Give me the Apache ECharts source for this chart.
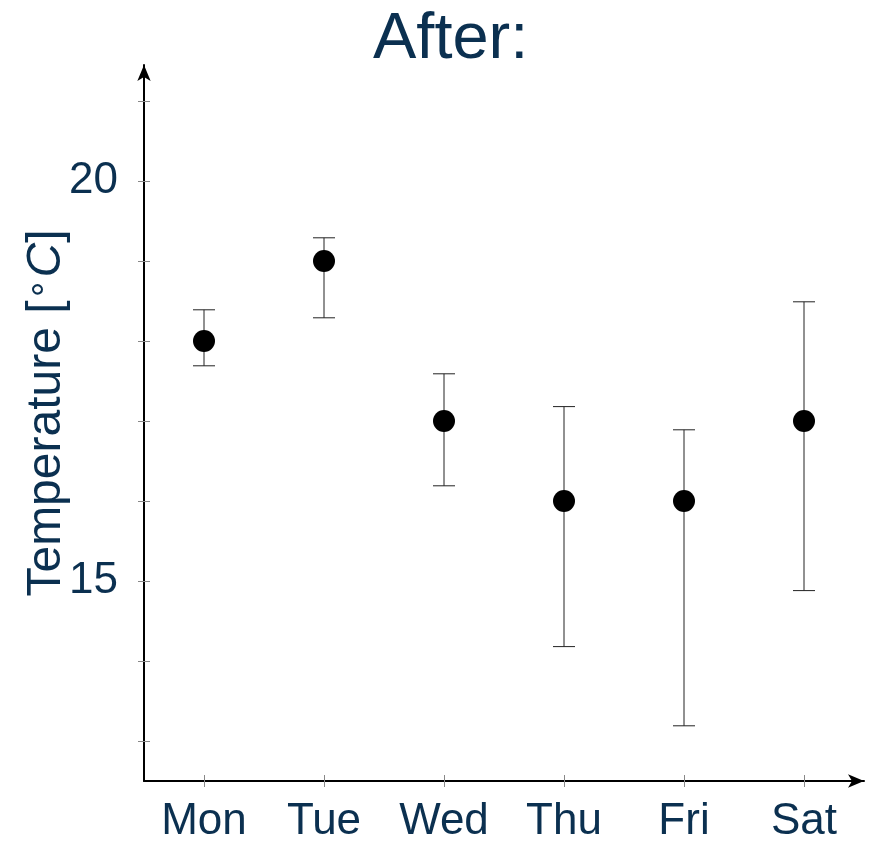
<!DOCTYPE html>
<html>
<head>
<meta charset="utf-8">
<script src="https://cdn.jsdelivr.net/npm/echarts@6/dist/echarts.min.js"></script>
<style>
  html, body { margin: 0; padding: 0; background: #fff; }
  #main { width: 869px; height: 844px; }
</style>
</head>
<body>
<div id="main"></div>
<script>
// data
const days = ['Mon', 'Tue', 'Wed', 'Thu', 'Fri', 'Sat']
const temps = [18, 19, 17, 16, 16, 17]
const upper = [18.39, 19.29, 17.59, 17.18, 16.89, 18.49]
const lower = [17.69, 18.29, 16.19, 14.18, 13.19, 14.88]
const yLabels = [15, 20]
const yTicks = [13, 14, 15, 16, 17, 18, 19, 20, 21]

const textColor = '#0b3050'
const font = "'Liberation Sans', Arial, Helvetica, sans-serif"

let myChart = echarts.init(document.getElementById('main'))

// error bars: vertical line + two caps
const errData = days.map((d, i) => [i, lower[i], upper[i]])

const renderErr = function (params, api) {
  let x = api.value(0)
  let lo = api.coord([x, api.value(1)])
  let hi = api.coord([x, api.value(2)])
  let half = 11
  let style = { stroke: '#222', lineWidth: 1 }
  return {
    type: 'group',
    children: [
      { type: 'line', shape: { x1: hi[0], y1: hi[1], x2: lo[0], y2: lo[1] }, style: style },
      { type: 'line', shape: { x1: hi[0] - half, y1: hi[1], x2: hi[0] + half, y2: hi[1] }, style: style },
      { type: 'line', shape: { x1: lo[0] - half, y1: lo[1], x2: lo[0] + half, y2: lo[1] }, style: style }
    ]
  }
}

const grid = { left: 144, right: 5, top: 65, bottom: 61 }

let option = {
  animation: false,
  backgroundColor: '#fff',
  title: {
    text: 'After:',
    left: 368,
    top: 3,
    textStyle: { color: textColor, fontSize: 65, fontWeight: 'normal', fontFamily: font }
  },
  grid: grid,
  xAxis: [
    {
      type: 'category',
      data: days,
      boundaryGap: true,
      axisLine: { show: true, lineStyle: { color: '#000', width: 2 }, symbol: ['none', 'arrow'], symbolSize: [10, 16] },
      axisTick: { show: true, alignWithLabel: true, length: 6, lineStyle: { color: '#888', width: 1 } },
      axisLabel: { color: textColor, fontSize: 44, fontFamily: font, margin: 19 },
      splitLine: { show: false }
    },
    {
      // second copy only for the inner half of the ticks
      type: 'category',
      data: days,
      position: 'bottom',
      boundaryGap: true,
      axisLine: { show: false },
      axisTick: { show: true, inside: true, alignWithLabel: true, length: 6, lineStyle: { color: '#888', width: 1 } },
      axisLabel: { show: false },
      splitLine: { show: false }
    }
  ],
  yAxis: [
    {
      type: 'value',
      min: 12.5,
      max: 21.45,
      name: 'Temperature [{sup|∘}{it|C}]',
      nameLocation: 'middle',
      nameGap: 72,
      nameMoveOverlap: false,
      nameRotate: 90,
      nameTextStyle: {
        color: textColor, fontSize: 48, fontFamily: font,
        padding: [0, 0, 0, 20],
        rich: {
          sup: { color: textColor, fontSize: 34, fontFamily: font, verticalAlign: 'top', padding: [0, 2, 16, 0] },
          it: { color: textColor, fontSize: 48, fontFamily: font, fontStyle: 'italic' }
        }
      },
      axisLine: { show: true, lineStyle: { color: '#000', width: 2 }, symbol: ['none', 'arrow'], symbolSize: [10, 16] },
      axisTick: { show: true, length: 6, customValues: yTicks, lineStyle: { color: '#888', width: 1 } },
      axisLabel: { color: textColor, fontSize: 44, fontFamily: font, margin: 26, customValues: yLabels },
      splitLine: { show: false }
    },
    {
      type: 'value',
      min: 12.5,
      max: 21.45,
      position: 'left',
      axisLine: { show: false },
      axisTick: { show: true, inside: true, length: 6, customValues: yTicks, lineStyle: { color: '#888', width: 1 } },
      axisLabel: { show: false },
      splitLine: { show: false }
    }
  ],
  series: [
    {
      type: 'custom',
      renderItem: renderErr,
      data: errData,
      encode: { x: 0, y: [1, 2] },
      z: 2
    },
    {
      type: 'scatter',
      data: temps,
      symbol: 'circle',
      symbolSize: 22,
      itemStyle: { color: '#000', opacity: 1 },
      z: 3
    }
  ]
}

myChart.setOption(option)
</script>
</body>
</html>
